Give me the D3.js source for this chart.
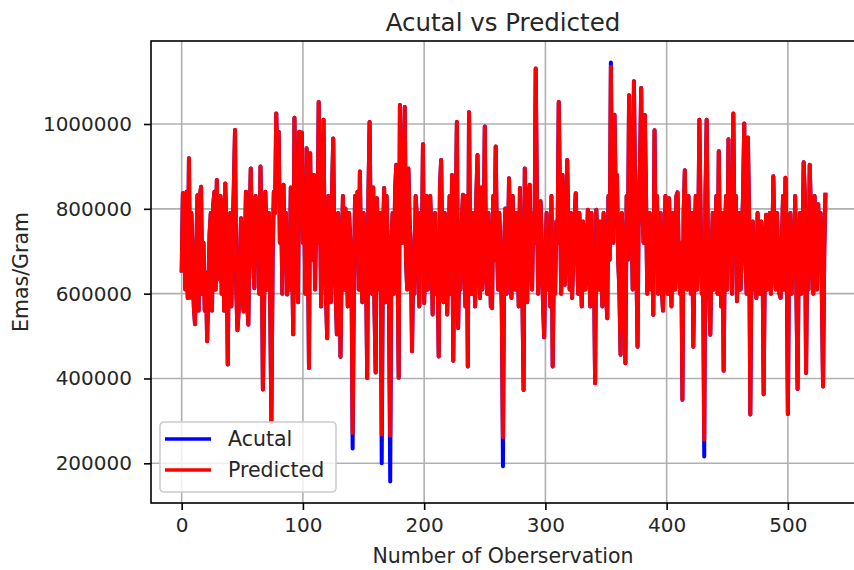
<!DOCTYPE html>
<html>
<head>
<meta charset="utf-8">
<script src="https://cdn.jsdelivr.net/npm/d3@7"></script>
<style>
  body { margin: 0; background: #fff; overflow: hidden; }
  svg { display: block; }
  text { font-family: "DejaVu Sans", sans-serif; fill: #262626; }
</style>
</head>
<body>
<div id="chart"></div>
<script>
// values, in thousands (Emas/Gram / 1000)
var actualK = [
  650, 837, 830, 610, 840, 590, 919, 591, 790, 700,
  570, 528, 690, 832, 560, 830, 852, 600, 720, 560,
  650, 488, 610, 740, 790, 560, 809, 840, 610, 868,
  680, 634, 830, 600, 820, 560, 860, 720, 433, 730,
  790, 570, 740, 850, 986, 610, 514, 560, 680, 778,
  610, 558, 670, 840, 580, 527, 770, 895, 730, 670,
  613, 830, 680, 820, 600, 900, 720, 374, 570, 840,
  740, 610, 790, 570, 298, 680, 840, 790, 1025, 900,
  982, 720, 830, 600, 857, 680, 790, 598, 740, 610,
  850, 700, 504, 1015, 840, 660, 580, 982, 790, 980,
  720, 830, 600, 943, 770, 425, 931, 680, 850, 880,
  610, 790, 720, 1052, 840, 570, 770, 1010, 680, 600,
  495, 830, 720, 580, 840, 966, 660, 600, 504, 790,
  720, 451, 680, 830, 610, 801, 740, 570, 790, 730,
  680, 235, 600, 830, 720, 840, 610, 888, 660, 580,
  790, 730, 680, 401, 830, 1005, 720, 600, 850, 570,
  414, 825, 680, 610, 790, 200, 720, 849, 580, 830,
  700, 570, 157, 720, 790, 600, 840, 904, 680, 402,
  1045, 830, 720, 790, 1040, 680, 610, 895, 770, 720,
  464, 680, 600, 830, 778, 720, 570, 790, 660, 952,
  578, 720, 830, 610, 680, 830, 739, 551, 720, 790,
  600, 680, 452, 850, 915, 700, 580, 790, 720, 551,
  680, 830, 600, 880, 442, 720, 790, 1005, 519, 680,
  610, 770, 833, 720, 570, 830, 428, 1028, 680, 600,
  790, 720, 570, 830, 927, 680, 590, 850, 610, 720,
  994, 680, 600, 790, 720, 570, 566, 830, 680, 947,
  720, 610, 790, 680, 570, 193, 720, 801, 600, 680,
  872, 720, 590, 830, 680, 610, 790, 720, 570, 849,
  680, 600, 373, 895, 720, 580, 830, 857, 680, 610,
  790, 720, 1131, 830, 600, 680, 818, 720, 580, 497,
  680, 790, 610, 720, 570, 830, 428, 680, 600, 770,
  720, 1052, 830, 600, 880, 680, 621, 790, 915, 720,
  610, 790, 590, 680, 770, 837, 720, 600, 790, 680,
  570, 770, 720, 610, 680, 798, 720, 570, 790, 600,
  680, 389, 798, 720, 610, 770, 680, 570, 790, 720,
  600, 542, 830, 680, 1145, 790, 720, 1022, 830, 880,
  680, 610, 456, 790, 720, 600, 436, 830, 680, 1068,
  900, 790, 610, 1101, 840, 680, 475, 830, 900, 1085,
  790, 720, 1021, 830, 600, 680, 790, 610, 720, 550,
  985, 680, 830, 600, 720, 790, 610, 560, 680, 830,
  720, 600, 825, 680, 570, 790, 720, 610, 830, 839,
  680, 600, 720, 350, 790, 891, 680, 610, 830, 720,
  600, 790, 475, 680, 830, 610, 720, 1010, 790, 600,
  680, 216, 830, 1010, 720, 600, 503, 680, 790, 610,
  720, 830, 600, 936, 680, 570, 790, 418, 720, 830,
  610, 964, 680, 790, 600, 1025, 720, 830, 582, 680,
  790, 610, 720, 830, 1001, 680, 600, 968, 790, 315,
  680, 770, 610, 720, 590, 790, 680, 600, 770, 720,
  363, 680, 786, 610, 720, 790, 600, 680, 877, 720,
  610, 790, 680, 600, 590, 720, 830, 610, 873, 680,
  316, 720, 790, 600, 680, 671, 830, 610, 375, 720,
  790, 600, 680, 910, 830, 413, 720, 610, 904, 790,
  680, 600, 830, 720, 610, 811, 680, 790, 600, 381,
  700, 838
];

var predictedK = [
  650, 837, 830, 610, 840, 590, 919, 591, 790, 700,
  570, 528, 690, 832, 560, 830, 852, 600, 720, 560,
  650, 488, 610, 740, 790, 560, 809, 840, 610, 868,
  680, 634, 830, 600, 820, 560, 860, 720, 433, 730,
  790, 570, 740, 850, 986, 610, 514, 560, 680, 778,
  610, 558, 670, 840, 580, 527, 770, 895, 730, 670,
  613, 830, 680, 820, 600, 900, 720, 374, 570, 840,
  740, 610, 790, 570, 298, 680, 840, 790, 1025, 900,
  982, 720, 830, 600, 857, 680, 790, 598, 740, 610,
  850, 700, 504, 1015, 840, 660, 580, 982, 790, 980,
  720, 830, 600, 943, 770, 425, 931, 680, 850, 880,
  610, 790, 720, 1052, 840, 570, 770, 1010, 680, 600,
  495, 830, 720, 580, 840, 966, 660, 600, 504, 790,
  720, 451, 680, 830, 610, 801, 740, 570, 790, 730,
  680, 272, 600, 830, 720, 840, 610, 888, 660, 580,
  790, 730, 680, 401, 830, 1005, 720, 600, 850, 570,
  414, 825, 680, 610, 790, 268, 720, 849, 580, 830,
  700, 570, 265, 720, 790, 600, 840, 904, 680, 402,
  1045, 830, 720, 790, 1040, 680, 610, 895, 770, 720,
  464, 680, 600, 830, 778, 720, 570, 790, 660, 952,
  578, 720, 830, 610, 680, 830, 739, 551, 720, 790,
  600, 680, 452, 850, 915, 700, 580, 790, 720, 551,
  680, 830, 600, 880, 442, 720, 790, 1005, 519, 680,
  610, 770, 833, 720, 570, 830, 428, 1028, 680, 600,
  790, 720, 570, 830, 927, 680, 590, 850, 610, 720,
  994, 680, 600, 790, 720, 570, 566, 830, 680, 947,
  720, 610, 790, 680, 570, 262, 720, 801, 600, 680,
  872, 720, 590, 830, 680, 610, 790, 720, 570, 849,
  680, 600, 373, 895, 720, 580, 830, 857, 680, 610,
  790, 720, 1131, 830, 600, 680, 818, 720, 580, 497,
  680, 790, 610, 720, 570, 830, 428, 680, 600, 770,
  720, 1052, 830, 600, 880, 680, 621, 790, 915, 720,
  610, 790, 590, 680, 770, 837, 720, 600, 790, 680,
  570, 770, 720, 610, 680, 798, 720, 570, 790, 600,
  680, 389, 798, 720, 610, 770, 680, 570, 790, 720,
  600, 542, 830, 680, 1135, 790, 720, 1022, 830, 880,
  680, 610, 456, 790, 720, 600, 436, 830, 680, 1068,
  900, 790, 610, 1101, 840, 680, 475, 830, 900, 1085,
  790, 720, 1021, 830, 600, 680, 790, 610, 720, 550,
  985, 680, 830, 600, 720, 790, 610, 560, 680, 830,
  720, 600, 825, 680, 570, 790, 720, 610, 830, 839,
  680, 600, 720, 350, 790, 891, 680, 610, 830, 720,
  600, 790, 475, 680, 830, 610, 720, 1010, 790, 600,
  680, 256, 830, 1010, 720, 600, 503, 680, 790, 610,
  720, 830, 600, 936, 680, 570, 790, 418, 720, 830,
  610, 964, 680, 790, 600, 1025, 720, 830, 582, 680,
  790, 610, 720, 830, 1001, 680, 600, 968, 790, 315,
  680, 770, 610, 720, 590, 790, 680, 600, 770, 720,
  363, 680, 786, 610, 720, 790, 600, 680, 877, 720,
  610, 790, 680, 600, 590, 720, 830, 610, 873, 680,
  316, 720, 790, 600, 680, 671, 830, 610, 375, 720,
  790, 600, 680, 910, 830, 413, 720, 610, 904, 790,
  680, 600, 830, 720, 610, 811, 680, 790, 600, 381,
  700, 838
];

var xTicks = [0, 100, 200, 300, 400, 500],
    yTicks = [200000, 400000, 600000, 800000, 1000000];

var seriesNames = ["Acutal", "Predicted"],
    seriesColors = ["#0000ff", "#ff0000"];

var width = 854,
    height = 570,
    margin = {top: 41, right: -3, bottom: 67, left: 151},
    innerWidth = width - margin.left - margin.right,
    innerHeight = height - margin.top - margin.bottom;

var x = d3.scaleLinear().domain([-25.3, 557]).range([0, innerWidth]),
    y = d3.scaleLinear().domain([106400, 1195700]).range([innerHeight, 0]);

var series = [actualK, predictedK].map(function(vals, k) {
  return {
    name: seriesNames[k],
    color: seriesColors[k],
    values: vals.map(function(v, i) { return {i: i, v: v * 1000}; })
  };
});

var svg = d3.select("#chart").append("svg")
    .attr("width", width)
    .attr("height", height);

svg.append("defs").append("clipPath").attr("id", "clip")
  .append("rect").attr("width", innerWidth).attr("height", innerHeight);

var g = svg.append("g")
    .attr("transform", "translate(" + margin.left + "," + margin.top + ")");

// grid
g.append("g").selectAll("line").data(xTicks).enter().append("line")
    .attr("x1", x).attr("x2", x)
    .attr("y1", 0).attr("y2", innerHeight)
    .attr("stroke", "#b0b0b0").attr("stroke-width", 1.6);
g.append("g").selectAll("line").data(yTicks).enter().append("line")
    .attr("y1", y).attr("y2", y)
    .attr("x1", 0).attr("x2", innerWidth)
    .attr("stroke", "#b0b0b0").attr("stroke-width", 1.6);

var line = d3.line()
    .x(function(d) { return x(d.i); })
    .y(function(d) { return y(d.v); });

g.append("g").attr("clip-path", "url(#clip)")
  .selectAll("path").data(series).enter().append("path")
    .attr("d", function(d) { return line(d.values); })
    .attr("fill", "none")
    .attr("stroke", function(d) { return d.color; })
    .attr("stroke-width", 4)
    .attr("stroke-linejoin", "round");

// axes
var xAxis = g.append("g")
    .attr("transform", "translate(0," + innerHeight + ")")
    .call(d3.axisBottom(x).tickValues(xTicks).tickSize(7).tickPadding(8).tickFormat(d3.format("d")));
var yAxis = g.append("g")
    .call(d3.axisLeft(y).tickValues(yTicks).tickSize(7).tickPadding(12).tickFormat(d3.format("d")));

[xAxis, yAxis].forEach(function(a) {
  a.select(".domain").remove();
  a.selectAll(".tick line").attr("stroke", "#000").attr("stroke-width", 1.6);
  a.selectAll(".tick text").attr("font-size", 20).attr("font-family", "DejaVu Sans").attr("fill", "#262626");
});

// frame
g.append("rect")
    .attr("width", innerWidth).attr("height", innerHeight)
    .attr("fill", "none").attr("stroke", "#000").attr("stroke-width", 1.6);

// titles
svg.append("text")
    .attr("x", 503).attr("y", 31)
    .attr("text-anchor", "middle")
    .attr("font-size", 24.5)
    .text("Acutal vs Predicted");

svg.append("text")
    .attr("x", 503).attr("y", 563)
    .attr("text-anchor", "middle")
    .attr("font-size", 20.5)
    .text("Number of Oberservation");

svg.append("text")
    .attr("transform", "translate(28," + (margin.top + innerHeight / 2) + ") rotate(-90)")
    .attr("text-anchor", "middle")
    .attr("font-size", 20.5)
    .text("Emas/Gram");

// legend
var legend = g.append("g").attr("transform", "translate(9,381)");
legend.append("rect")
    .attr("width", 176).attr("height", 70).attr("rx", 4)
    .attr("fill", "#fff").attr("fill-opacity", 0.8)
    .attr("stroke", "#cccccc").attr("stroke-width", 1.6);

var item = legend.selectAll(".item").data(series).enter().append("g")
    .attr("transform", function(d, i) { return "translate(0," + (17 + i * 31) + ")"; });
item.append("line")
    .attr("x1", 5).attr("x2", 51)
    .attr("stroke", function(d) { return d.color; })
    .attr("stroke-width", 3.5);
item.append("text")
    .attr("x", 68).attr("y", 7)
    .attr("font-size", 20.5)
    .text(function(d) { return d.name; });
</script>
</body>
</html>
